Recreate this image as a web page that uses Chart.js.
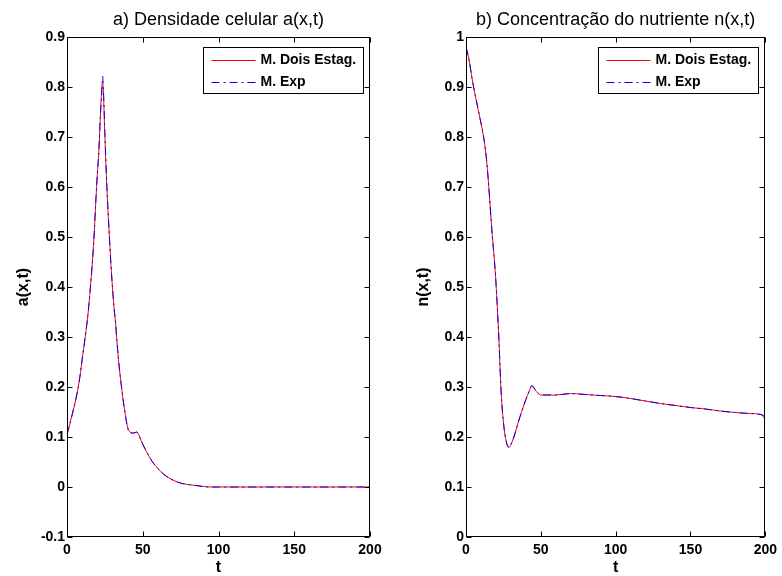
<!DOCTYPE html>
<html>
<head>
<meta charset="utf-8">
<script src="https://cdn.jsdelivr.net/npm/chart.js@4.4.0/dist/chart.umd.min.js"></script>
<style>
  body { margin: 0; background: #fff; }
  #wrap { position: relative; width: 782px; height: 576px; background: #fff; }
  .box { position: absolute; top: 0; }
</style>
</head>
<body>
<div id="wrap">
  <div class="box" style="left:0"><canvas id="chart1" width="400" height="576"></canvas></div>
  <div class="box" style="left:400px"><canvas id="chart2" width="382" height="576"></canvas></div>
</div>
<script>
// a(x,t) - densidade celular
const tA = [0, 2, 4, 6, 8, 10, 12, 14, 16, 17, 18, 19, 20, 21, 22, 23, 23.5, 24, 25, 26, 27, 28, 29, 30,
    31, 32, 33, 34, 35, 36, 37, 38, 39, 40, 42, 44, 46, 48, 50, 53, 56, 60, 64, 68, 72, 76, 80, 85, 90, 95, 100, 150, 200];
const aDois = [0.105, 0.128, 0.152, 0.178, 0.21, 0.255, 0.30, 0.35, 0.42, 0.46, 0.51, 0.57, 0.625, 0.67, 0.74, 0.80, 0.81, 0.79, 0.70, 0.62, 0.555, 0.50, 0.445, 0.40,
    0.36, 0.33, 0.29, 0.255, 0.225, 0.20, 0.175, 0.155, 0.135, 0.12, 0.109, 0.108, 0.11, 0.10, 0.085, 0.068, 0.052, 0.037, 0.025, 0.017, 0.011, 0.007, 0.005, 0.003, 0.001, 0, 0, 0, 0];
const aExp = [0.105, 0.128, 0.152, 0.178, 0.21, 0.255, 0.30, 0.35, 0.42, 0.46, 0.51, 0.57, 0.625, 0.67, 0.74, 0.79, 0.822, 0.80, 0.71, 0.625, 0.56, 0.50, 0.445, 0.40,
    0.36, 0.33, 0.29, 0.255, 0.225, 0.20, 0.175, 0.155, 0.135, 0.118, 0.108, 0.108, 0.11, 0.10, 0.086, 0.068, 0.052, 0.037, 0.025, 0.017, 0.011, 0.007, 0.005, 0.003, 0.001, 0, 0, 0, 0];

// n(x,t) - concentracao do nutriente
const tN = [0, 2, 4, 6, 8, 10, 11, 12, 13, 14, 15, 16, 17, 18, 19, 20, 21, 22, 23, 24, 25, 26, 27, 28, 29, 30,
    32, 34, 36, 38, 40, 42, 44, 46, 48, 50, 55, 60, 70, 80, 90, 100, 110, 120, 130, 140, 150, 160, 170, 180, 190, 197, 200];
const nDois = [0.98, 0.955, 0.918, 0.886, 0.857, 0.828, 0.813, 0.796, 0.774, 0.746, 0.71, 0.668, 0.625, 0.587, 0.553, 0.51, 0.455, 0.395, 0.32, 0.265, 0.23, 0.205, 0.19, 0.182, 0.18, 0.185,
    0.20, 0.22, 0.24, 0.258, 0.275, 0.29, 0.302, 0.295, 0.288, 0.284, 0.284, 0.284, 0.287, 0.285, 0.283, 0.281, 0.277, 0.272, 0.267, 0.263, 0.259, 0.256, 0.252, 0.249, 0.247, 0.245, 0.235];
const nExp = [0.98, 0.955, 0.918, 0.886, 0.857, 0.828, 0.813, 0.796, 0.774, 0.746, 0.71, 0.668, 0.625, 0.587, 0.553, 0.51, 0.455, 0.395, 0.32, 0.265, 0.23, 0.205, 0.19, 0.18, 0.179, 0.184,
    0.20, 0.22, 0.24, 0.258, 0.275, 0.29, 0.303, 0.296, 0.288, 0.284, 0.284, 0.284, 0.287, 0.285, 0.283, 0.281, 0.277, 0.272, 0.267, 0.263, 0.259, 0.256, 0.252, 0.249, 0.247, 0.245, 0.242];

const xTicks = [0, 50, 100, 150, 200];
const seriesLabels = ['M. Dois Estag.', 'M. Exp'];

Chart.defaults.font.family = "'Liberation Sans', Arial, Helvetica, sans-serif";
Chart.defaults.color = '#000';

function pts(t, v) {
    return t.map((x, i) => ({ x: x, y: v[i] }));
}

// caixa, marcas de escala para dentro (estilo matlab)
const matlabAxes = {
    id: 'matlabAxes',
    afterDatasetsDraw(chart) {
        const { ctx, chartArea: a, scales: { x, y } } = chart;
        const L = Math.round(a.left) + 0.5, R = Math.round(a.right) - 0.5;
        const T = Math.round(a.top) + 0.5, B = Math.round(a.bottom) - 0.5;
        ctx.save();
        ctx.strokeStyle = '#000';
        ctx.lineWidth = 1;
        ctx.beginPath();
        x.ticks.forEach(tk => {
            const px = Math.round(x.getPixelForValue(tk.value)) + 0.5;
            ctx.moveTo(px, B); ctx.lineTo(px, B - 5);
            ctx.moveTo(px, T); ctx.lineTo(px, T + 5);
        });
        y.ticks.forEach(tk => {
            const py = Math.round(y.getPixelForValue(tk.value)) + 0.5;
            ctx.moveTo(L, py); ctx.lineTo(L + 5, py);
            ctx.moveTo(R, py); ctx.lineTo(R - 5, py);
        });
        ctx.stroke();
        ctx.strokeRect(L, T, R - L, B - T);
        ctx.restore();
    }
};

// legenda dentro dos eixos, canto superior direito
const boxLegend = {
    id: 'boxLegend',
    afterDraw(chart) {
        const { ctx, chartArea: a } = chart;
        const sets = chart.data.datasets;
        ctx.save();
        ctx.font = "bold 14px 'Liberation Sans', Arial, sans-serif";
        let tw = 0;
        sets.forEach(ds => { tw = Math.max(tw, ctx.measureText(ds.label).width); });
        const w = Math.round(57 + tw + 7), h = 46;
        const left = Math.round(a.right - 7 - w) + 0.5, top = Math.round(a.top + 10) + 0.5;
        ctx.fillStyle = '#fff';
        ctx.fillRect(left, top, w, h);
        ctx.strokeStyle = '#000';
        ctx.lineWidth = 1;
        ctx.strokeRect(left, top, w, h);
        sets.forEach((ds, i) => {
            const yy = Math.round(top + 12 + i * 22) + 0.5;
            ctx.strokeStyle = ds.borderColor;
            ctx.setLineDash(ds.borderDash || []);
            ctx.beginPath();
            ctx.moveTo(left + 8, yy);
            ctx.lineTo(left + 52, yy);
            ctx.stroke();
            ctx.setLineDash([]);
            ctx.fillStyle = '#000';
            ctx.textBaseline = 'middle';
            ctx.fillText(ds.label, left + 57, yy);
        });
        ctx.restore();
    }
};

function makeConfig(title, yLabel, tt, red, blue, yMin, yMax, yWidth, padRight) {
    return {
        type: 'line',
        data: {
            datasets: [
                {
                    label: seriesLabels[0],
                    data: pts(tt, red),
                    borderColor: 'rgba(255, 0, 0, 1)',
                    borderWidth: 1,
                    pointRadius: 0,
                    cubicInterpolationMode: 'monotone',
                    order: 1
                },
                {
                    label: seriesLabels[1],
                    data: pts(tt, blue),
                    borderColor: 'rgba(0, 0, 255, 1)',
                    borderWidth: 1,
                    borderDash: [8, 4, 2, 4],
                    pointRadius: 0,
                    cubicInterpolationMode: 'monotone',
                    order: 0
                }
            ]
        },
        options: {
            responsive: false,
            animation: false,
            layout: { padding: { left: 0, right: padRight, top: 0, bottom: 0 } },
            plugins: {
                legend: { display: false },
                tooltip: { enabled: false },
                title: {
                    display: true,
                    text: title,
                    fullSize: false,
                    color: '#000',
                    font: { size: 18, weight: 'normal', lineHeight: 1.2 },
                    padding: { top: 9.5, bottom: 6 }
                }
            },
            scales: {
                x: {
                    type: 'linear',
                    min: 0,
                    max: 200,
                    afterBuildTicks: (s) => { s.ticks = xTicks.map(v => ({ value: v })); },
                    grid: { display: false, drawTicks: false },
                    border: { display: false },
                    ticks: { padding: 5, font: { size: 14, weight: 'bold' }, maxRotation: 0 },
                    title: { display: true, text: 't', font: { size: 16, weight: 'bold', lineHeight: 1 }, padding: { top: 0, bottom: 0 } },
                    afterFit: (s) => { s.height = 39; }
                },
                y: {
                    min: yMin,
                    max: yMax,
                    grid: { display: false, drawTicks: false },
                    border: { display: false },
                    ticks: {
                        stepSize: 0.1,
                        padding: 2,
                        font: { size: 14, weight: 'bold' },
                        callback: (v) => Math.round(v * 10) / 10
                    },
                    title: { display: true, text: yLabel, font: { size: 16, weight: 'bold', lineHeight: 1.2 }, padding: { top: 14, bottom: 0 } },
                    afterFit: (s) => { s.width = yWidth; }
                }
            }
        },
        plugins: [matlabAxes, boxLegend]
    };
}

const chart1 = new Chart(document.getElementById('chart1'),
    makeConfig('a) Densidade celular a(x,t)', 'a(x,t)', tA, aDois, aExp, -0.1, 0.9, 67, 30));
const chart2 = new Chart(document.getElementById('chart2'),
    makeConfig('b) Concentração do nutriente n(x,t)', 'n(x,t)', tN, nDois, nExp, 0, 1, 66, 12));
</script>
</body>
</html>
